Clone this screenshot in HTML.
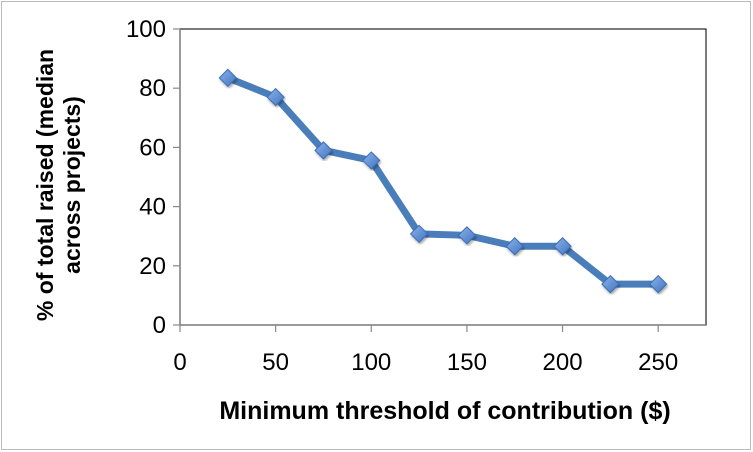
<!DOCTYPE html>
<html><head><meta charset="utf-8"><style>
body{margin:0;background:#fff}
svg{display:block;font-family:"Liberation Sans",sans-serif}
</style></head><body>
<svg id="c" width="753" height="452">
<defs><linearGradient id="g" x1="0" y1="0" x2="1" y2="1"><stop offset="0" stop-color="#8db4ea"/><stop offset="1" stop-color="#3f73c0"/></linearGradient>
<filter id="sh"><feDropShadow dx="1" dy="2" stdDeviation="1.2" flood-opacity="0.35"/></filter></defs>
<rect x="1.5" y="1.5" width="749" height="448" fill="#fff" stroke="#bbb"/>
<g id="axes"></g><g id="marks"></g>
<text transform="translate(53,185) rotate(-90)" text-anchor="middle" font-size="23" font-weight="bold">% of total raised (median</text>
<text transform="translate(80,185) rotate(-90)" text-anchor="middle" font-size="23" font-weight="bold">across projects)</text>
<text x="445" y="419" text-anchor="middle" font-size="25" font-weight="bold">Minimum threshold of contribution ($)</text>
</svg>
<script>
const categories=[25,50,75,100,125,150,175,200,225,250];
const values=[83.5,77,59,55.6,30.8,30.3,26.6,26.6,13.8,13.8];
const xTicks=[0,50,100,150,200,250];
const yTicks=[0,20,40,60,80,100];
const NS="http://www.w3.org/2000/svg";
const L=180,R=706,T=29,B=325,XMAX=275,YMAX=100;
const xs=v=>L+(R-L)*v/XMAX, ys=v=>B-(B-T)*v/YMAX;
function mk(tag,at,par){const e=document.createElementNS(NS,tag);for(const k in at)e.setAttribute(k,at[k]);par.appendChild(e);return e;}
const ax=document.getElementById('axes'), mg=document.getElementById('marks');
const box=mk('rect',{x:L,y:T,width:R-L,height:B-T,fill:'none',stroke:'#222','stroke-width':1.2},ax);


mk('line',{x1:L,y1:T,x2:L,y2:B,stroke:'#888','stroke-width':1.5},ax);
mk('line',{x1:L,y1:B,x2:R,y2:B,stroke:'#888','stroke-width':1.5},ax);
yTicks.forEach(t=>{const y=ys(t);
mk('line',{x1:L-7,y1:y,x2:L,y2:y,stroke:'#888','stroke-width':1.2},ax);
const tx=mk('text',{x:L-14,y:y+8,'text-anchor':'end','font-size':24},ax);tx.textContent=t;

});
xTicks.forEach(t=>{const x=xs(t);
mk('line',{x1:x,y1:B,x2:x,y2:B+7,stroke:'#888','stroke-width':1.2},ax);
const tx=mk('text',{x:x,y:B+45,'text-anchor':'middle','font-size':24},ax);tx.textContent=t;

});
const pts=categories.map((c,i)=>xs(c)+','+ys(values[i])).join(' ');
const ln=mk('polyline',{points:pts,fill:'none',stroke:'#4a7ebb','stroke-width':7,'stroke-linejoin':'round'},mg);


categories.forEach((c,i)=>{const x=xs(c),y=ys(values[i]),s=8.5;
const p=mk('polygon',{points:`${x},${y-s} ${x+s},${y} ${x},${y+s} ${x-s},${y}`,fill:'url(#g)',stroke:'#3a6db5','stroke-width':1,filter:'url(#sh)'},mg);

});
</script>
</body></html>
